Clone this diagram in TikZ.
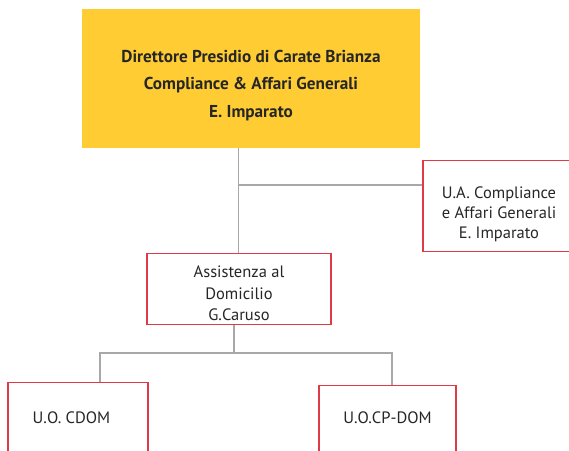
\documentclass[tikz,border=0pt]{standalone}
\usepackage{fontspec}
\setmainfont{PT Sans}

\definecolor{boxyellow}{HTML}{FFCC33}
\definecolor{boxred}{HTML}{E03A48}
\definecolor{linegray}{HTML}{A8A8A8}

\begin{document}
\begin{tikzpicture}[
    x=1pt, y=-1pt,
    every node/.style={font=\fontsize{16.5}{22.5}\selectfont, text=black!85, align=center},
    head/.style={fill=boxyellow, anchor=north, inner sep=0pt, font=\bfseries\fontsize{17.2}{27.5}\selectfont},
    unit/.style={draw=boxred, line width=1.1pt, anchor=north, inner xsep=0pt, inner ysep=0pt},
    link/.style={draw=linegray, line width=1.1pt},
]
  \useasboundingbox (0,0) rectangle (569,450);
  \clip (0,0) rectangle (569,450);

  \node [head, minimum width=338pt, text height=108pt, text depth=31pt] (boss) at (251,9)
        {Direttore Presidio di Carate Brianza\\Compliance \& Affari Generali\\E. Imparato};
  \node [unit, minimum width=152pt, text height=78pt, text depth=13pt, font=\fontsize{16.5}{20}\selectfont]  (ua)   at (499,160)
        {U.A. Compliance\\e Affari Generali\\E. Imparato};
  \node [unit, minimum width=184pt, text height=67pt, text depth=4pt, font=\fontsize{16.5}{21.5}\selectfont]  (asst) at (239,253)
        {Assistenza al\\Domicilio\\G.Caruso};
  \node [unit, minimum width=140pt, text height=41pt, text depth=50pt] (cdom)  at (78,382)  {U.O. CDOM\hspace{13pt}};
  \node [unit, minimum width=137pt, text height=38pt, text depth=50pt] (cpdom) at (387.5,385) {U.O.CP-DOM};

  % junctions
  \coordinate (j1) at (238.5,185);
  \coordinate (j2) at (234,353);
  \coordinate (k1) at (100,353);
  \coordinate (k2) at (392,353);

  \draw [link] (boss.south -| j1) -- (j1 |- asst.north);
  \draw [link] (j1) -- (j1 -| ua.west);
  \draw [link] (asst.south -| j2) -- (j2);
  \draw [link] (k1 |- cdom.north) -- (k1) -- (k2) -- (k2 |- cpdom.north);
\end{tikzpicture}
\end{document}
